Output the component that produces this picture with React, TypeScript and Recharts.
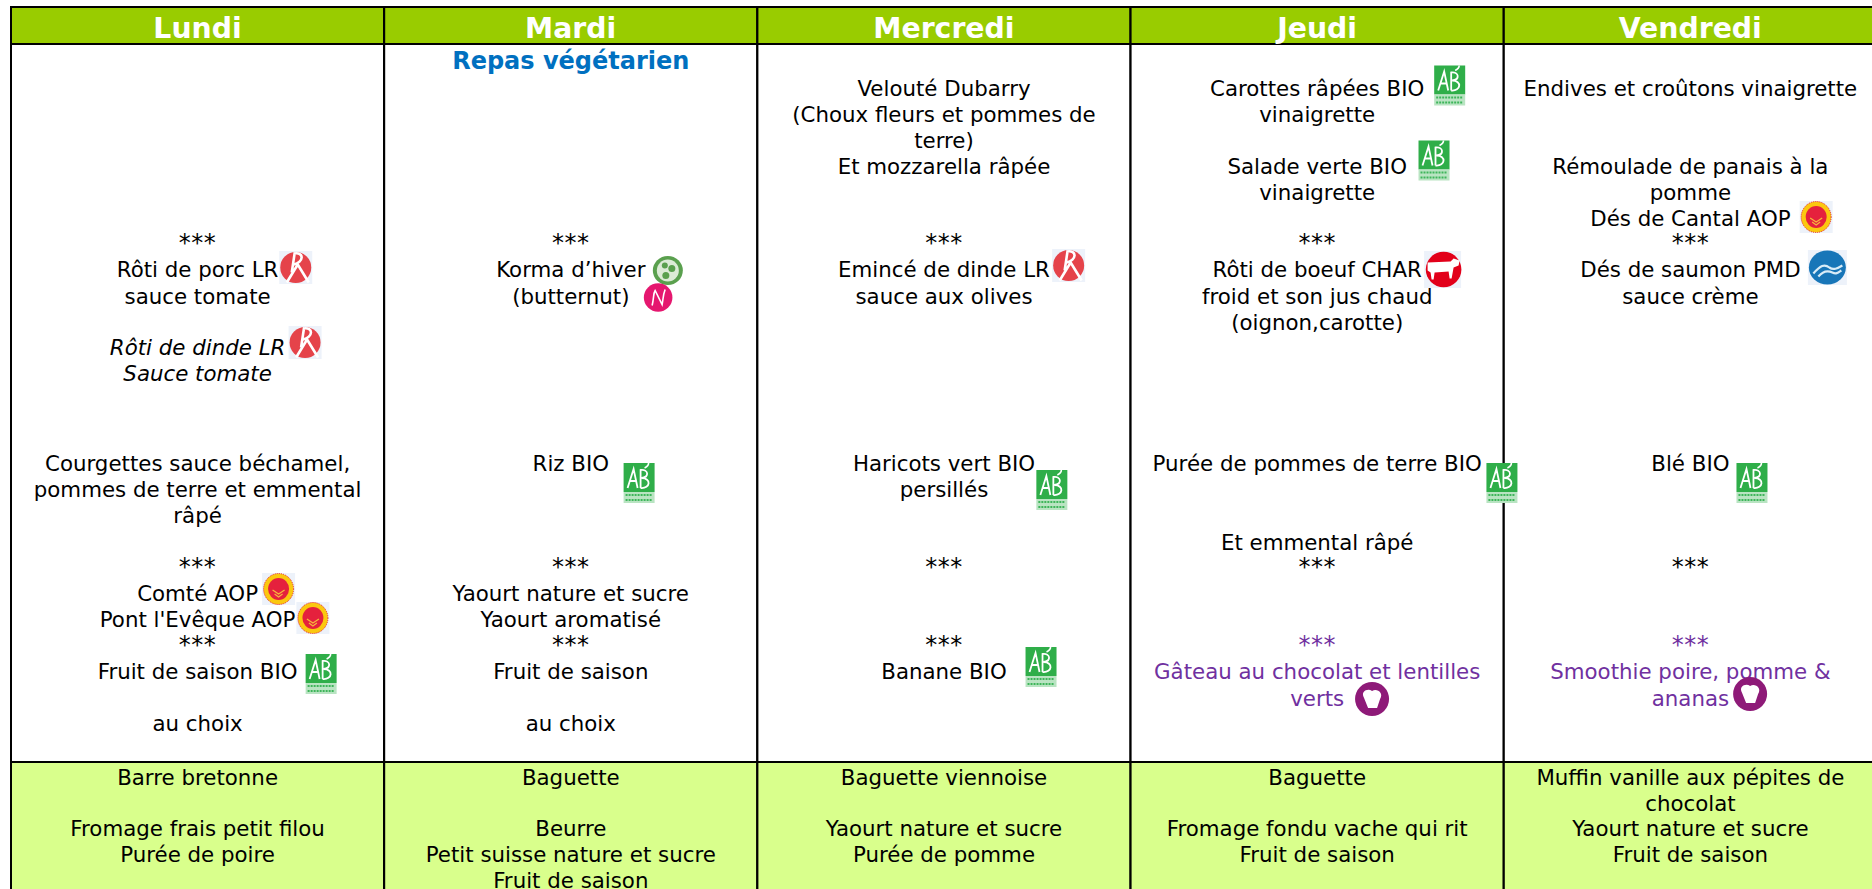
import React from 'react';
import { ComposedChart, Bar, Scatter, XAxis, YAxis, LabelList } from 'recharts';

const days = ['Lundi', 'Mardi', 'Mercredi', 'Jeudi', 'Vendredi'];

// table rows, heights on the y axis
const topGap = [7, 7, 7, 7, 7];
const headerRow = [37, 37, 37, 37, 37];
const mealRow = [718, 718, 718, 718, 718];
const snackRow = [130, 130, 130, 130, 130];

// [level on the page axis, text]
const lundiLines: [number, string][] = [
  [240, '***'], [269, 'Rôti de porc LR'], [296, 'sauce tomate'],
  [463, 'Courgettes sauce béchamel,'], [489, 'pommes de terre et emmental'], [515, 'râpé'],
  [564, '***'], [593, 'Comté AOP'], [619, "Pont l'Evêque AOP"], [642, '***'],
  [671, 'Fruit de saison BIO'], [723, 'au choix'],
  [777, 'Barre bretonne'], [828, 'Fromage frais petit filou'], [854, 'Purée de poire'],
];
const lundiItalicLines: [number, string][] = [[347, 'Rôti de dinde LR'], [373, 'Sauce tomate']];
const mardiLines: [number, string][] = [
  [240, '***'], [269, 'Korma d’hiver'], [296, '(butternut)'], [463, 'Riz BIO'],
  [564, '***'], [593, 'Yaourt nature et sucre'], [619, 'Yaourt aromatisé'], [642, '***'],
  [671, 'Fruit de saison'], [723, 'au choix'],
  [777, 'Baguette'], [828, 'Beurre'], [854, 'Petit suisse nature et sucre'], [880, 'Fruit de saison'],
];
const mercrediLines: [number, string][] = [
  [88, 'Velouté Dubarry'], [114, '(Choux fleurs et pommes de'], [140, 'terre)'], [166, 'Et mozzarella râpée'],
  [240, '***'], [269, 'Emincé de dinde LR'], [296, 'sauce aux olives'],
  [463, 'Haricots vert BIO'], [489, 'persillés'], [564, '***'], [642, '***'], [671, 'Banane BIO'],
  [777, 'Baguette viennoise'], [828, 'Yaourt nature et sucre'], [854, 'Purée de pomme'],
];
const jeudiLines: [number, string][] = [
  [88, 'Carottes râpées BIO'], [114, 'vinaigrette'], [166, 'Salade verte BIO'], [192, 'vinaigrette'],
  [240, '***'], [269, 'Rôti de boeuf CHAR'], [296, 'froid et son jus chaud'], [322, '(oignon,carotte)'],
  [463, 'Purée de pommes de terre BIO'], [542, 'Et emmental râpé'], [564, '***'],
  [777, 'Baguette'], [828, 'Fromage fondu vache qui rit'], [854, 'Fruit de saison'],
];
const jeudiDessertLines: [number, string][] = [[642, '***'], [671, 'Gâteau au chocolat et lentilles'], [698, 'verts']];
const vendrediLines: [number, string][] = [
  [88, 'Endives et croûtons vinaigrette'], [166, 'Rémoulade de panais à la'], [192, 'pomme'],
  [218, 'Dés de Cantal AOP'], [240, '***'], [269, 'Dés de saumon PMD'], [296, 'sauce crème'],
  [463, 'Blé BIO'], [564, '***'],
  [777, 'Muffin vanille aux pépites de'], [803, 'chocolat'], [828, 'Yaourt nature et sucre'], [854, 'Fruit de saison'],
];
const vendrediDessertLines: [number, string][] = [[642, '***'], [671, 'Smoothie poire, pomme &'], [698, 'ananas']];
const vegetarianNote: [number, string][] = [[61, 'Repas végétarien']];

// label badges: [position across the days, level on the page axis]
const abBadges = [[0.831, 674], [1.683, 483], [2.789, 490], [2.76, 667], [3.855, 85.5], [3.813, 160.5], [3.995, 483], [4.665, 483]];
const lrBadges = [[0.763, 267.5], [0.788, 342.5], [2.834, 265.5]];
const aopBadges = [[0.717, 589], [0.809, 618], [4.837, 217]];
const ecoBadges = [[1.76, 270.5]];
const newBadges = [[1.734, 297.5]];
const cowBadges = [[3.836, 269.5]];
const fishBadges = [[4.867, 267.5]];
const chefBadges = [[3.647, 699], [4.66, 694]];

const tableData = days.map((day, i) => ({
  day,
  gap: topGap[i],
  header: headerRow[i],
  meal: mealRow[i],
  snack: snackRow[i],
}));

const toText = (dayIndex: number, lines: [number, string][]) =>
  lines.map(([level, text]) => ({ pos: dayIndex + 0.5, level, text }));
const toBadge = (list: number[][]) => list.map(([pos, level]) => ({ pos, level }));

const regularText = [
  ...toText(0, lundiLines),
  ...toText(1, mardiLines),
  ...toText(2, mercrediLines),
  ...toText(3, jeudiLines),
  ...toText(4, vendrediLines),
];
const dessertText = [...toText(3, jeudiDessertLines), ...toText(4, vendrediDessertLines)];

const FONT = '"DejaVu Sans", Verdana, sans-serif';

const lineShape = (fill: string, extra: any = {}) => (props: any) => {
  // the separators are wider in the original font
  const stars = props.payload.text === '***';
  return (
    <text
      x={props.cx}
      y={props.cy + (stars ? 10.5 : 8)}
      textAnchor="middle"
      fontFamily={FONT}
      fontSize={stars ? 24 : 21.33}
      letterSpacing={stars ? 0.5 : undefined}
      fill={fill}
      {...extra}
    >
      {props.payload.text}
    </text>
  );
};

const AbBadge = ({ cx, cy }: any) => (
  <g transform={`translate(${cx - 15.5},${cy - 20})`}>
    <rect width={31} height={29} fill="#2fae49" />
    <rect y={29} width={31} height={11} fill="#b9e4c2" />
    <path d="M4 25 L10 6 L14 25 M6 18 H13 M17 25 V7 C25 6 26 14 18 15 C28 15 27 26 17 25" fill="none" stroke="#fff" strokeWidth={1.8} />
    <path d="M21 5 C23 4 25 2 25 0" fill="none" stroke="#fff" strokeWidth={1.6} />
    <path d="M2 32 H29 M2 37 H29" stroke="#3eb55a" strokeWidth={2} strokeDasharray="2 1" />
  </g>
);

const LrBadge = ({ cx, cy }: any) => (
  <g transform={`translate(${cx},${cy})`}>
    <rect x={-16.5} y={-16.5} width={33} height={33} fill="#edf2fa" />
    <circle r={15.5} fill="#e5434a" />
    <path d="M-9 15 L2 -3 L13 15 M-1 -15 L-4 5 M-2 -14 C9 -16 8 -5 -2 -3" fill="none" stroke="#fff" strokeWidth={2.6} />
  </g>
);

const AopBadge = ({ cx, cy }: any) => (
  <g transform={`translate(${cx},${cy})`}>
    <rect x={-16.5} y={-16} width={33} height={32} fill="#edf2fa" />
    <ellipse rx={15} ry={15.5} fill="#fbc80f" stroke="#e5213d" strokeWidth={1} strokeDasharray="1 1" />
    <ellipse rx={10.5} ry={11} fill="#e5213d" />
    <path d="M-6 1 L0 5 L6 1 M-4 5 L0 8 L4 5" fill="none" stroke="#f6b73c" strokeWidth={1.2} />
  </g>
);

const EcoBadge = ({ cx, cy }: any) => (
  <g transform={`translate(${cx},${cy})`}>
    <ellipse rx={15} ry={14.5} fill="#5aa04e" />
    <ellipse rx={11} ry={11} fill="#dcebd6" />
    <circle cx={-3} cy={-5} r={3} fill="#5aa04e" />
    <circle cx={4} cy={-2} r={3.5} fill="#5aa04e" />
    <circle cx={-2} cy={5} r={3.5} fill="#5aa04e" />
  </g>
);

const NewBadge = ({ cx, cy }: any) => (
  <g transform={`translate(${cx},${cy})`}>
    <circle r={14.3} fill="#e5176f" />
    <path d="M-6 8 C-4 0 -5 -4 -3 -7 L4 7 C5 2 5 -3 7 -8" fill="none" stroke="#fff" strokeWidth={1.6} />
  </g>
);

const CowBadge = ({ cx, cy }: any) => (
  <g transform={`translate(${cx},${cy})`}>
    <rect x={-18.5} y={-18.5} width={37} height={37} fill="#edf2fa" />
    <circle cx={1} r={17.8} fill="#e2001a" />
    <path d="M-15 -7 L8 -8 L11 -11 L17 -9 L16 -4 L11 -2 L9 9 H7 L6 2 L-8 3 L-9 10 H-11 L-12 3 L-15 1 Z" fill="#fff" />
  </g>
);

const FishBadge = ({ cx, cy }: any) => (
  <g transform={`translate(${cx},${cy})`}>
    <rect x={-19.5} y={-17.5} width={39} height={35} fill="#edf2fa" />
    <ellipse rx={18.5} ry={17} fill="#1876b8" />
    <path d="M-14 6 C-7 -2 -3 -4 2 0 C6 3 10 1 15 -2 M-9 9 C-4 3 1 3 5 5 C9 7 11 5 14 3" fill="none" stroke="#d9ecf7" strokeWidth={2.2} />
  </g>
);

const ChefBadge = ({ cx, cy }: any) => (
  <g transform={`translate(${cx},${cy})`}>
    <circle r={17} fill="#8e1a78" />
    <path d="M-8 -1 C-12 -8 -4 -11 0 -8 C5 -11 12 -6 8 0 L5 9 H-4 Z" fill="#fff" />
  </g>
);

const App = () => (
  <div style={{ position: 'absolute', left: 0, top: 0, width: 1872, height: 889, overflow: 'hidden', background: '#fff' }}>
    <ComposedChart width={1880} height={892} data={tableData} margin={{ top: 0, right: 3, bottom: 0, left: 11 }} barCategoryGap={0}>
      <XAxis xAxisId="day" dataKey="day" hide />
      <XAxis xAxisId="pos" dataKey="pos" type="number" domain={[0, 5]} hide />
      <YAxis yAxisId="rows" type="number" domain={[0, 892]} reversed hide />
      <YAxis yAxisId="page" dataKey="level" type="number" domain={[0, 892]} reversed hide />

      <Bar xAxisId="day" yAxisId="rows" dataKey="gap" stackId="table" fill="none" isAnimationActive={false} />
      <Bar xAxisId="day" yAxisId="rows" dataKey="header" stackId="table" fill="#99cc00" stroke="#000" strokeWidth={2} isAnimationActive={false}>
        <LabelList dataKey="day" position="center" offset={0} dy={2} fill="#fff" fontFamily={FONT} fontWeight="bold" fontSize={28.3} />
      </Bar>
      <Bar xAxisId="day" yAxisId="rows" dataKey="meal" stackId="table" fill="#fff" stroke="#000" strokeWidth={2} isAnimationActive={false} />
      <Bar xAxisId="day" yAxisId="rows" dataKey="snack" stackId="table" fill="#d9ff8c" stroke="#000" strokeWidth={2} isAnimationActive={false} />

      <Scatter xAxisId="pos" yAxisId="page" data={regularText} shape={lineShape('#000')} isAnimationActive={false} />
      <Scatter xAxisId="pos" yAxisId="page" data={toText(0, lundiItalicLines)} shape={lineShape('#000', { fontStyle: 'italic' })} isAnimationActive={false} />
      <Scatter xAxisId="pos" yAxisId="page" data={dessertText} shape={lineShape('#7030a0')} isAnimationActive={false} />
      <Scatter xAxisId="pos" yAxisId="page" data={toText(1, vegetarianNote)} shape={lineShape('#0070c0', { fontWeight: 'bold', fontSize: 24 })} isAnimationActive={false} />

      <Scatter xAxisId="pos" yAxisId="page" data={toBadge(abBadges)} shape={AbBadge} isAnimationActive={false} />
      <Scatter xAxisId="pos" yAxisId="page" data={toBadge(lrBadges)} shape={LrBadge} isAnimationActive={false} />
      <Scatter xAxisId="pos" yAxisId="page" data={toBadge(aopBadges)} shape={AopBadge} isAnimationActive={false} />
      <Scatter xAxisId="pos" yAxisId="page" data={toBadge(ecoBadges)} shape={EcoBadge} isAnimationActive={false} />
      <Scatter xAxisId="pos" yAxisId="page" data={toBadge(newBadges)} shape={NewBadge} isAnimationActive={false} />
      <Scatter xAxisId="pos" yAxisId="page" data={toBadge(cowBadges)} shape={CowBadge} isAnimationActive={false} />
      <Scatter xAxisId="pos" yAxisId="page" data={toBadge(fishBadges)} shape={FishBadge} isAnimationActive={false} />
      <Scatter xAxisId="pos" yAxisId="page" data={toBadge(chefBadges)} shape={ChefBadge} isAnimationActive={false} />
    </ComposedChart>
  </div>
);

export default App;
